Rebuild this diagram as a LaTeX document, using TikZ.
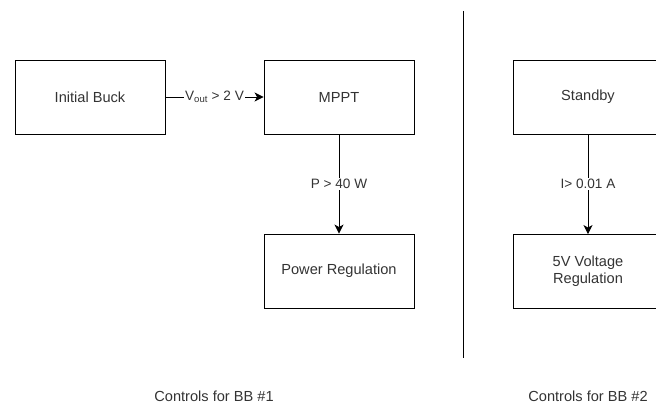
\documentclass[tikz,border=0pt]{standalone}
\usepackage{fontspec}
\setmainfont{Liberation Sans}
\usetikzlibrary{arrows.meta}
\definecolor{txt}{HTML}{333333}
\tikzset{
  blk/.style={draw=black, line width=0.9pt, minimum width=150pt, minimum height=74pt, inner sep=0pt, text=txt, font=\fontsize{14.6}{17}\selectfont, align=center},
  conn/.style={draw=black, line width=0.9pt, -{Stealth[length=9pt,width=9pt,inset=2.5pt]}},
  lbl/.style={fill=white, text=txt, font=\fontsize{13.6}{16}\selectfont, inner sep=1pt},
  captxt/.style={text=txt, font=\fontsize{14.6}{17}\selectfont}
}
\begin{document}
\begin{tikzpicture}[x=1pt,y=-1pt]
\useasboundingbox (0,0) rectangle (656,403);
\clip (0,0) rectangle (656,403);
\node[blk] (buck) at (90,97) {Initial Buck};
\node[blk] (mppt) at (339,97) {MPPT};
\node[blk] (preg) at (339,271) {Power Regulation};
\node[blk] (stby) at (588,97) {Standby};
\node[blk] (vreg) at (588,271.5) {5V Voltage\\Regulation};
\draw[conn] (buck) -- node[lbl] (l1) {V\textsubscript{out} > 2 V} (mppt);
\draw[conn] (mppt) -- node[lbl,pos=0.5] (l2) {P > 40 W} (preg);
\draw[conn] (stby) -- node[lbl,pos=0.5] (l3) {I> 0.01 A} (vreg);
\coordinate (d1) at (463,11);
\coordinate (d2) at (463,358);
\draw[line width=0.9pt] (d1) -- (d2);
\node[captxt] (c1) at (214,396) {Controls for BB \#1};
\node[captxt] (c2) at (588,396) {Controls for BB \#2};
\end{tikzpicture}
\end{document}
